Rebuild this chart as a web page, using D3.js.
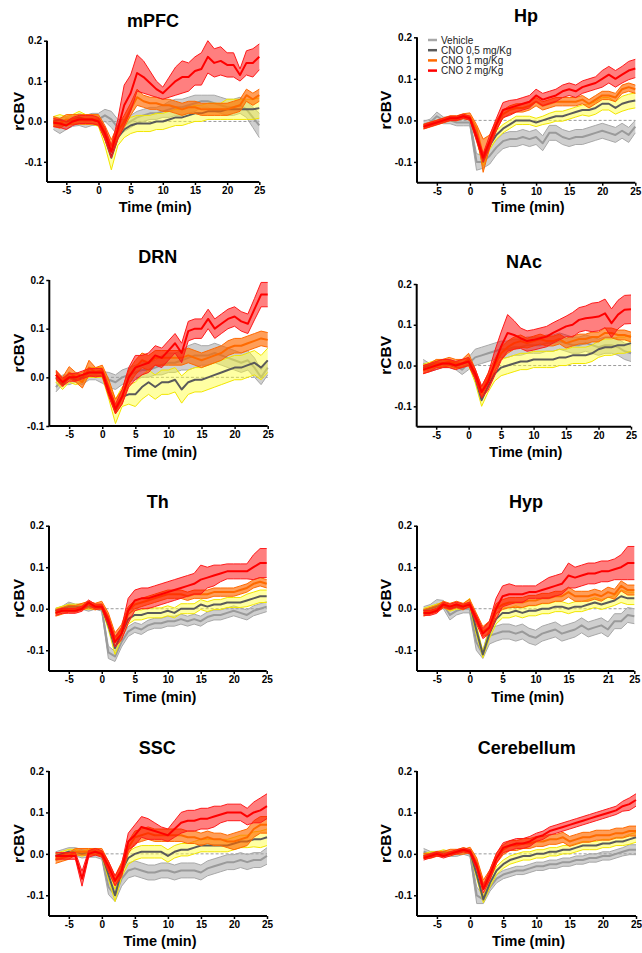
<!DOCTYPE html>
<html><head><meta charset="utf-8">
<script src="https://cdn.jsdelivr.net/npm/d3@7"></script>
<style>body{margin:0;background:#fff}svg text{font-family:Arial,"Liberation Sans",sans-serif}</style>
</head><body><svg id="c" width="642" height="953"></svg>
<script>
// ---------- data ----------
const minutes = [-7,-6,-5,-4,-3,-2,-1,0,1,2,3,4,5,6,7,8,9,10,11,12,13,14,15,16,17,18,19,20,21,22,23,24,25];
const seriesNames = ["Vehicle","CNO 0,5 mg/Kg","CNO 1 mg/Kg","CNO 2 mg/Kg"];
const regions = ["mPFC","Hp","DRN","NAc","Th","Hyp","SSC","Cerebellum"];
const xTicks = [-5,0,5,10,15,20,25];
const xTicksHyp = [-5,0,5,10,15,21,25];
const yTicks = [-0.1,0,0.1,0.2];
const yTicksDRN = [-0.1,0,0.1,0.2];

// mPFC
const mPFC_veh = [-0.005,-0.01,-0.005,0,0.005,0,0.005,0.005,0.015,0.005,-0.015,-0.01,0,0.01,0.015,0.02,0.02,0.025,0.03,0.035,0.035,0.04,0.045,0.05,0.05,0.045,0.04,0.035,0.035,0.04,0.03,0.01,-0.01];
const mPFC_veh_err = [0.015,0.02,0.015,0.012,0.015,0.015,0.015,0.015,0.015,0.02,0.02,0.015,0.015,0.015,0.015,0.015,0.015,0.015,0.02,0.02,0.02,0.02,0.02,0.015,0.015,0.02,0.02,0.02,0.02,0.02,0.02,0.025,0.03];
const mPFC_c05 = [0,0.005,0,0.005,0.01,0.005,0.005,0,-0.04,-0.09,-0.04,-0.02,-0.01,-0.005,-0.005,-0.005,0,0,0.005,0.01,0.01,0.015,0.02,0.02,0.025,0.025,0.025,0.03,0.03,0.03,0.03,0.03,0.033];
const mPFC_c05_err = [0.012,0.012,0.012,0.012,0.015,0.012,0.012,0.012,0.02,0.03,0.02,0.02,0.02,0.02,0.02,0.02,0.02,0.02,0.02,0.02,0.02,0.02,0.02,0.02,0.02,0.02,0.02,0.025,0.025,0.025,0.025,0.025,0.025];
const mPFC_c1 = [0,-0.005,0.005,0.005,0.005,0.005,0.005,0.005,-0.025,-0.06,-0.025,0,0.03,0.06,0.05,0.045,0.045,0.04,0.04,0.035,0.03,0.035,0.035,0.03,0.03,0.03,0.03,0.03,0.035,0.04,0.065,0.055,0.065];
const mPFC_c1_err = [0.012,0.012,0.012,0.012,0.012,0.012,0.012,0.012,0.015,0.015,0.015,0.015,0.015,0.02,0.015,0.015,0.015,0.015,0.015,0.015,0.015,0.015,0.015,0.015,0.015,0.015,0.015,0.015,0.015,0.015,0.015,0.015,0.015];
const mPFC_c2 = [-0.003,-0.005,-0.01,0,0.005,0.005,0.005,0,-0.03,-0.075,-0.02,0.04,0.07,0.12,0.11,0.095,0.08,0.07,0.085,0.1,0.11,0.11,0.125,0.13,0.16,0.145,0.15,0.14,0.14,0.115,0.145,0.145,0.16];
const mPFC_c2_err = [0.01,0.01,0.01,0.01,0.01,0.01,0.01,0.01,0.015,0.015,0.025,0.05,0.045,0.045,0.04,0.03,0.02,0.015,0.025,0.035,0.04,0.035,0.035,0.04,0.04,0.035,0.035,0.03,0.03,0.015,0.03,0.035,0.032];

// Hp
const Hp_veh = [-0.01,-0.005,0.01,0,0,-0.005,-0.005,-0.005,-0.1,-0.1,-0.085,-0.065,-0.05,-0.045,-0.045,-0.04,-0.045,-0.04,-0.055,-0.03,-0.03,-0.04,-0.045,-0.04,-0.04,-0.035,-0.03,-0.025,-0.03,-0.035,-0.025,-0.035,-0.015];
const Hp_veh_err = [0.008,0.008,0.01,0.008,0.008,0.008,0.008,0.008,0.02,0.015,0.02,0.018,0.018,0.018,0.018,0.018,0.018,0.018,0.018,0.018,0.018,0.018,0.018,0.018,0.018,0.018,0.018,0.018,0.018,0.018,0.018,0.018,0.015];
const Hp_c05 = [-0.015,-0.01,-0.005,0,0.005,0.005,0.01,0.005,-0.04,-0.1,-0.06,-0.035,-0.02,-0.01,0,0,0,-0.005,0,0.005,0.01,0.01,0.015,0.02,0.025,0.025,0.03,0.04,0.04,0.03,0.04,0.045,0.048];
const Hp_c05_err = [0.005,0.005,0.005,0.005,0.005,0.005,0.005,0.005,0.008,0.01,0.01,0.01,0.01,0.01,0.01,0.01,0.01,0.01,0.01,0.012,0.012,0.012,0.012,0.012,0.012,0.015,0.015,0.015,0.015,0.015,0.018,0.018,0.018];
const Hp_c1 = [-0.015,-0.01,-0.005,0,0.005,0.005,0.01,0.01,-0.02,-0.085,-0.05,-0.01,0.015,0.025,0.03,0.03,0.035,0.045,0.035,0.04,0.045,0.045,0.045,0.045,0.05,0.04,0.05,0.06,0.06,0.055,0.075,0.08,0.075];
const Hp_c1_err = [0.006,0.006,0.006,0.006,0.006,0.006,0.006,0.008,0.01,0.04,0.015,0.01,0.01,0.01,0.01,0.01,0.01,0.01,0.01,0.01,0.01,0.01,0.01,0.01,0.01,0.01,0.01,0.01,0.01,0.01,0.01,0.01,0.01];
const Hp_c2 = [-0.015,-0.01,-0.005,0,0.005,0.005,0.01,0.005,-0.04,-0.09,-0.05,-0.01,0.025,0.03,0.035,0.04,0.045,0.06,0.05,0.055,0.06,0.07,0.075,0.07,0.08,0.085,0.09,0.1,0.11,0.1,0.11,0.12,0.125];
const Hp_c2_err = [0.005,0.005,0.005,0.005,0.005,0.005,0.005,0.005,0.01,0.01,0.015,0.015,0.018,0.018,0.015,0.015,0.015,0.015,0.015,0.015,0.015,0.015,0.015,0.015,0.015,0.015,0.015,0.02,0.02,0.02,0.02,0.022,0.022];

// DRN
const DRN_veh = [-0.02,-0.005,-0.005,0,-0.005,0.005,0.005,0,-0.005,-0.01,0,0.005,0.01,0.015,0.015,0.02,0.025,0.03,0.03,0.035,0.04,0.045,0.045,0.045,0.05,0.045,0.04,0.035,0.03,0.035,0.02,0,0.02];
const DRN_veh_err = [0.01,0.01,0.01,0.01,0.01,0.01,0.01,0.012,0.015,0.015,0.015,0.015,0.015,0.015,0.015,0.015,0.02,0.02,0.02,0.02,0.025,0.025,0.02,0.02,0.02,0.02,0.02,0.02,0.02,0.02,0.02,0.015,0.015];
const DRN_c05 = [0,-0.015,0,-0.005,0,0.01,0.01,0.01,-0.03,-0.07,-0.04,-0.035,-0.035,-0.02,-0.01,-0.02,-0.01,-0.01,-0.005,-0.025,-0.01,-0.005,-0.005,0,0.005,0.01,0.015,0.02,0.02,0.025,0.03,0.02,0.035];
const DRN_c05_err = [0.01,0.01,0.01,0.01,0.01,0.01,0.01,0.01,0.015,0.025,0.02,0.02,0.025,0.025,0.025,0.025,0.025,0.025,0.025,0.028,0.025,0.025,0.025,0.025,0.025,0.025,0.025,0.025,0.025,0.025,0.025,0.025,0.025];
const DRN_c1 = [0.005,-0.01,0.01,0,-0.01,0.02,0.01,0.015,-0.02,-0.06,-0.04,0,0.02,0.035,0.03,0.04,0.04,0.04,0.04,0.04,0.045,0.04,0.035,0.04,0.045,0.05,0.06,0.065,0.065,0.07,0.075,0.08,0.077];
const DRN_c1_err = [0.01,0.01,0.012,0.01,0.012,0.015,0.01,0.01,0.015,0.015,0.015,0.015,0.015,0.015,0.015,0.015,0.015,0.015,0.015,0.015,0.015,0.015,0.015,0.015,0.015,0.015,0.015,0.015,0.015,0.015,0.015,0.015,0.015];
const DRN_c2 = [0.005,-0.01,0,0,0.005,0.01,0.01,0.01,-0.03,-0.065,-0.04,0,0.02,0.025,0.03,0.045,0.04,0.055,0.07,0.05,0.095,0.1,0.1,0.12,0.1,0.11,0.12,0.125,0.115,0.11,0.14,0.17,0.17];
const DRN_c2_err = [0.008,0.008,0.008,0.008,0.008,0.008,0.008,0.008,0.01,0.01,0.015,0.02,0.025,0.02,0.02,0.02,0.02,0.02,0.02,0.02,0.02,0.02,0.02,0.02,0.02,0.02,0.02,0.02,0.02,0.02,0.022,0.025,0.025];

// NAc
const NAc_veh = [0.005,-0.005,0,0.005,0.005,0,-0.01,0.005,0.02,0.025,0.03,0.035,0.04,0.04,0.045,0.045,0.05,0.05,0.05,0.055,0.055,0.06,0.055,0.05,0.05,0.055,0.05,0.045,0.05,0.05,0.045,0.035,0.03];
const NAc_veh_err = [0.01,0.01,0.01,0.01,0.01,0.01,0.012,0.015,0.02,0.02,0.02,0.02,0.02,0.02,0.02,0.02,0.02,0.02,0.02,0.02,0.02,0.02,0.02,0.02,0.02,0.02,0.02,0.02,0.02,0.02,0.02,0.02,0.02];
const NAc_c05 = [-0.005,0,0.005,0.005,0.005,0,0.005,0.01,-0.03,-0.085,-0.05,-0.02,-0.005,0,0.005,0.01,0.01,0.015,0.015,0.015,0.015,0.02,0.02,0.025,0.025,0.025,0.03,0.04,0.045,0.045,0.05,0.05,0.055];
const NAc_c05_err = [0.008,0.008,0.008,0.008,0.008,0.008,0.008,0.01,0.012,0.015,0.015,0.018,0.02,0.02,0.02,0.02,0.02,0.02,0.02,0.02,0.02,0.02,0.02,0.02,0.02,0.02,0.02,0.02,0.02,0.02,0.02,0.02,0.02];
const NAc_c1 = [-0.01,-0.005,0.005,0.005,0.01,0.005,0.005,0.015,-0.02,-0.065,-0.03,0,0.03,0.045,0.055,0.06,0.055,0.06,0.065,0.06,0.06,0.065,0.055,0.06,0.065,0.065,0.07,0.07,0.08,0.08,0.075,0.075,0.07];
const NAc_c1_err = [0.01,0.01,0.01,0.01,0.01,0.01,0.01,0.015,0.012,0.012,0.012,0.015,0.015,0.015,0.015,0.015,0.012,0.012,0.012,0.012,0.012,0.012,0.012,0.012,0.012,0.012,0.012,0.012,0.012,0.012,0.012,0.012,0.012];
const NAc_c2 = [-0.01,-0.005,0,0.005,0.005,0,0.005,0.01,-0.02,-0.065,-0.04,0.005,0.047,0.08,0.075,0.067,0.06,0.063,0.067,0.071,0.08,0.088,0.096,0.1,0.112,0.116,0.118,0.12,0.128,0.104,0.125,0.137,0.138];
const NAc_c2_err = [0.01,0.01,0.01,0.01,0.01,0.01,0.01,0.01,0.012,0.015,0.02,0.03,0.035,0.045,0.035,0.025,0.025,0.025,0.025,0.025,0.025,0.025,0.025,0.03,0.03,0.03,0.035,0.035,0.035,0.035,0.035,0.035,0.035];

// Th
const Th_veh = [-0.005,0,0.01,0.005,0.005,0,0.005,0,-0.105,-0.115,-0.08,-0.055,-0.045,-0.05,-0.04,-0.035,-0.035,-0.03,-0.03,-0.025,-0.03,-0.025,-0.03,-0.02,-0.015,-0.015,-0.01,-0.005,-0.01,-0.015,-0.005,0,0.005];
const Th_veh_err = [0.006,0.006,0.006,0.006,0.006,0.006,0.006,0.006,0.015,0.012,0.012,0.012,0.012,0.012,0.012,0.012,0.012,0.012,0.012,0.012,0.012,0.012,0.012,0.012,0.012,0.012,0.012,0.012,0.012,0.012,0.012,0.012,0.012];
const Th_c05 = [-0.005,0,0.005,0.005,0.005,0.005,0.005,0.005,-0.04,-0.095,-0.06,-0.025,-0.015,-0.015,-0.01,-0.01,-0.01,-0.005,-0.01,0,0,0,0.01,0.005,0.01,0.01,0.015,0.015,0.015,0.02,0.025,0.03,0.03];
const Th_c05_err = [0.006,0.006,0.006,0.006,0.006,0.006,0.006,0.006,0.01,0.015,0.012,0.012,0.012,0.012,0.012,0.012,0.012,0.012,0.012,0.012,0.012,0.012,0.012,0.012,0.012,0.012,0.012,0.012,0.012,0.015,0.015,0.015,0.015];
const Th_c1 = [-0.01,-0.005,0,0,0.005,0.01,0.005,0.01,-0.02,-0.07,-0.05,-0.005,0.01,0.015,0.02,0.025,0.03,0.035,0.035,0.035,0.03,0.035,0.035,0.035,0.04,0.04,0.04,0.04,0.045,0.05,0.06,0.065,0.06];
const Th_c1_err = [0.008,0.008,0.008,0.008,0.008,0.008,0.008,0.008,0.01,0.012,0.012,0.01,0.01,0.01,0.01,0.01,0.01,0.01,0.01,0.01,0.01,0.01,0.01,0.01,0.01,0.01,0.01,0.01,0.01,0.01,0.01,0.01,0.01];
const Th_c2 = [-0.01,-0.005,-0.005,-0.005,0,0.015,0.005,0.005,-0.03,-0.08,-0.06,-0.005,0.02,0.025,0.025,0.03,0.035,0.04,0.045,0.05,0.055,0.06,0.07,0.075,0.08,0.085,0.09,0.09,0.09,0.09,0.1,0.11,0.11];
const Th_c2_err = [0.006,0.006,0.006,0.006,0.006,0.006,0.006,0.006,0.01,0.012,0.015,0.03,0.025,0.025,0.025,0.025,0.025,0.025,0.025,0.025,0.025,0.025,0.035,0.025,0.025,0.02,0.018,0.018,0.018,0.018,0.03,0.035,0.035];

// Hyp
const Hyp_veh = [-0.005,0,0.01,0.01,-0.015,-0.005,0,0,-0.08,-0.11,-0.065,-0.06,-0.055,-0.055,-0.06,-0.055,-0.065,-0.07,-0.06,-0.055,-0.05,-0.06,-0.055,-0.05,-0.04,-0.05,-0.045,-0.04,-0.05,-0.03,-0.03,-0.015,-0.018];
const Hyp_veh_err = [0.01,0.01,0.012,0.01,0.012,0.01,0.01,0.01,0.02,0.01,0.02,0.018,0.018,0.018,0.018,0.018,0.018,0.018,0.018,0.018,0.018,0.018,0.018,0.018,0.018,0.018,0.018,0.018,0.018,0.018,0.018,0.018,0.018];
const Hyp_c05 = [-0.005,0,0.005,0.01,0,0.005,0.005,0.015,-0.05,-0.11,-0.06,-0.025,-0.01,-0.01,-0.005,-0.01,-0.005,-0.005,0,0,0.005,0.005,0,0.005,0.005,0.01,0.015,0.01,0.015,0.02,0.03,0.025,0.025];
const Hyp_c05_err = [0.006,0.006,0.006,0.006,0.006,0.006,0.006,0.01,0.012,0.008,0.012,0.012,0.012,0.012,0.012,0.012,0.012,0.012,0.012,0.012,0.012,0.012,0.012,0.012,0.012,0.012,0.012,0.012,0.012,0.012,0.015,0.015,0.015];
const Hyp_c1 = [-0.01,-0.005,0,0.01,0.005,0.01,0.005,0.015,-0.02,-0.055,-0.045,0,0.01,0.015,0.015,0.015,0.02,0.02,0.025,0.025,0.03,0.03,0.04,0.03,0.03,0.03,0.035,0.03,0.04,0.035,0.055,0.045,0.045];
const Hyp_c1_err = [0.008,0.008,0.008,0.008,0.008,0.008,0.008,0.008,0.01,0.012,0.015,0.012,0.012,0.012,0.012,0.012,0.012,0.012,0.012,0.012,0.012,0.012,0.012,0.012,0.012,0.012,0.012,0.012,0.012,0.012,0.012,0.012,0.012];
const Hyp_c2 = [-0.01,-0.01,-0.005,0.01,0.005,0.01,0.005,0.01,-0.025,-0.06,-0.045,0,0.03,0.035,0.035,0.035,0.04,0.04,0.045,0.05,0.055,0.06,0.08,0.075,0.08,0.085,0.085,0.09,0.09,0.095,0.1,0.11,0.11];
const Hyp_c2_err = [0.006,0.006,0.006,0.006,0.006,0.006,0.006,0.006,0.01,0.012,0.015,0.025,0.025,0.025,0.02,0.02,0.015,0.015,0.02,0.025,0.025,0.025,0.03,0.025,0.025,0.025,0.025,0.025,0.025,0.025,0.03,0.04,0.04];

// SSC
const SSC_veh = [-0.005,0,0.005,0.005,0,0,0,-0.005,-0.08,-0.1,-0.06,-0.04,-0.035,-0.04,-0.045,-0.045,-0.04,-0.04,-0.045,-0.04,-0.04,-0.04,-0.045,-0.035,-0.03,-0.025,-0.02,-0.02,-0.015,-0.02,-0.015,-0.015,-0.005];
const SSC_veh_err = [0.01,0.01,0.01,0.01,0.01,0.008,0.008,0.008,0.018,0.015,0.018,0.018,0.018,0.018,0.018,0.018,0.018,0.018,0.018,0.018,0.018,0.018,0.018,0.018,0.018,0.018,0.018,0.018,0.018,0.018,0.018,0.018,0.02];
const SSC_c05 = [-0.005,0,0.005,0.005,0,0.005,0.005,0,-0.05,-0.1,-0.04,-0.01,0,0.005,0.005,0.005,0.005,-0.005,0.005,0.01,0.01,0.015,0.02,0.02,0.02,0.02,0.02,0.025,0.03,0.03,0.035,0.035,0.04];
const SSC_c05_err = [0.006,0.006,0.006,0.006,0.006,0.006,0.006,0.006,0.012,0.015,0.015,0.015,0.015,0.015,0.015,0.015,0.015,0.015,0.015,0.015,0.015,0.015,0.015,0.015,0.015,0.015,0.015,0.015,0.015,0.015,0.018,0.02,0.02];
const SSC_c1 = [-0.015,-0.01,-0.005,0.005,0.005,0.005,0.005,0.005,-0.03,-0.065,-0.035,0.015,0.04,0.045,0.05,0.045,0.045,0.045,0.045,0.045,0.04,0.04,0.035,0.04,0.035,0.035,0.03,0.03,0.035,0.04,0.06,0.07,0.07];
const SSC_c1_err = [0.008,0.008,0.008,0.008,0.008,0.008,0.008,0.008,0.012,0.012,0.015,0.015,0.015,0.015,0.015,0.015,0.015,0.015,0.015,0.015,0.015,0.015,0.015,0.015,0.015,0.015,0.015,0.02,0.02,0.02,0.02,0.02,0.02];
const SSC_c2 = [-0.005,-0.005,-0.005,-0.005,-0.06,0,0.005,0,-0.03,-0.065,-0.04,0.03,0.045,0.065,0.06,0.055,0.05,0.045,0.06,0.075,0.08,0.08,0.085,0.085,0.09,0.095,0.1,0.1,0.1,0.09,0.1,0.105,0.115];
const SSC_c2_err = [0.008,0.008,0.008,0.008,0.018,0.008,0.008,0.008,0.012,0.012,0.015,0.02,0.025,0.025,0.025,0.02,0.015,0.015,0.02,0.025,0.025,0.025,0.025,0.025,0.025,0.02,0.02,0.02,0.02,0.02,0.025,0.03,0.03];

// Cerebellum
const Cer_veh = [0.005,0,0,0,0,0,0.005,0,-0.1,-0.11,-0.08,-0.06,-0.05,-0.045,-0.04,-0.04,-0.035,-0.03,-0.03,-0.025,-0.025,-0.02,-0.02,-0.015,-0.015,-0.01,-0.01,-0.005,-0.005,0,0.005,0.01,0.01];
const Cer_veh_err = [0.008,0.006,0.006,0.006,0.006,0.006,0.006,0.006,0.02,0.01,0.01,0.01,0.01,0.01,0.01,0.01,0.01,0.01,0.01,0.01,0.01,0.01,0.01,0.01,0.01,0.01,0.01,0.01,0.01,0.01,0.01,0.012,0.012];
const Cer_c05 = [-0.005,0,0,0.005,0,0.005,0.01,0.005,-0.05,-0.11,-0.07,-0.04,-0.025,-0.015,-0.01,-0.005,-0.005,0,0,0.005,0.005,0.01,0.01,0.015,0.02,0.02,0.02,0.025,0.025,0.03,0.03,0.035,0.04];
const Cer_c05_err = [0.005,0.005,0.005,0.005,0.005,0.005,0.005,0.005,0.01,0.008,0.01,0.01,0.01,0.01,0.01,0.01,0.01,0.01,0.01,0.01,0.01,0.01,0.01,0.01,0.01,0.01,0.01,0.01,0.01,0.01,0.01,0.012,0.012];
const Cer_c1 = [-0.005,-0.005,0,0,0.005,0.005,0.005,0.01,-0.02,-0.075,-0.05,-0.01,0.01,0.02,0.02,0.025,0.025,0.03,0.03,0.035,0.035,0.04,0.03,0.035,0.04,0.04,0.045,0.045,0.045,0.05,0.05,0.055,0.055];
const Cer_c1_err = [0.006,0.006,0.006,0.006,0.006,0.006,0.006,0.006,0.01,0.012,0.012,0.012,0.012,0.012,0.012,0.012,0.012,0.012,0.012,0.012,0.012,0.012,0.012,0.012,0.012,0.012,0.012,0.012,0.012,0.012,0.012,0.012,0.012];
const Cer_c2 = [-0.01,-0.005,0,-0.005,0,0.005,0.01,0.005,-0.03,-0.085,-0.05,-0.01,0.015,0.02,0.025,0.025,0.03,0.04,0.045,0.055,0.06,0.065,0.07,0.075,0.08,0.085,0.09,0.095,0.1,0.105,0.115,0.12,0.13];
const Cer_c2_err = [0.005,0.005,0.005,0.005,0.005,0.005,0.005,0.005,0.008,0.01,0.012,0.012,0.012,0.012,0.012,0.012,0.012,0.01,0.01,0.01,0.01,0.01,0.01,0.01,0.01,0.01,0.01,0.01,0.01,0.01,0.012,0.015,0.015];

const panelData = {
  mPFC: [[mPFC_veh,mPFC_veh_err],[mPFC_c05,mPFC_c05_err],[mPFC_c1,mPFC_c1_err],[mPFC_c2,mPFC_c2_err]],
  Hp: [[Hp_veh,Hp_veh_err],[Hp_c05,Hp_c05_err],[Hp_c1,Hp_c1_err],[Hp_c2,Hp_c2_err]],
  DRN: [[DRN_veh,DRN_veh_err],[DRN_c05,DRN_c05_err],[DRN_c1,DRN_c1_err],[DRN_c2,DRN_c2_err]],
  NAc: [[NAc_veh,NAc_veh_err],[NAc_c05,NAc_c05_err],[NAc_c1,NAc_c1_err],[NAc_c2,NAc_c2_err]],
  Th: [[Th_veh,Th_veh_err],[Th_c05,Th_c05_err],[Th_c1,Th_c1_err],[Th_c2,Th_c2_err]],
  Hyp: [[Hyp_veh,Hyp_veh_err],[Hyp_c05,Hyp_c05_err],[Hyp_c1,Hyp_c1_err],[Hyp_c2,Hyp_c2_err]],
  SSC: [[SSC_veh,SSC_veh_err],[SSC_c05,SSC_c05_err],[SSC_c1,SSC_c1_err],[SSC_c2,SSC_c2_err]],
  Cerebellum: [[Cer_veh,Cer_veh_err],[Cer_c05,Cer_c05_err],[Cer_c1,Cer_c1_err],[Cer_c2,Cer_c2_err]]
};

// ---------- layout / style ----------
const layout = {
  mPFC:{l:47,r:259.3,t:40.7,b:182,ymin:-0.15,tx:153,ty:20,xl:207,yl:18},
  Hp:{l:417,r:635.3,t:37.3,b:182.7,ymin:-0.15,tx:526,ty:15,xl:207,yl:385},
  DRN:{l:49.3,r:267.7,t:280,b:426,ymin:-0.1,tx:157.7,ty:256.7,xl:451.7,yl:18},
  NAc:{l:416.7,r:631,t:284,b:426.7,ymin:-0.15,tx:524,ty:261.7,xl:451.7,yl:385},
  Th:{l:49,r:266.7,t:525.7,b:671,ymin:-0.15,tx:157.7,ty:501.7,xl:697,yl:18},
  Hyp:{l:417,r:634.3,t:525.7,b:671,ymin:-0.15,tx:526,ty:501.7,xl:697,yl:385},
  SSC:{l:49,r:267,t:771,b:916,ymin:-0.15,tx:157.3,ty:747.3,xl:940.7,yl:18},
  Cerebellum:{l:417,r:636,t:771,b:916,ymin:-0.15,tx:526.7,ty:747,xl:941,yl:385}
};
const styles = [
  {fill:"#a0a0a0",op:0.5,edge:"#a8a8a8",line:"#9a9a9a",lw:2},
  {fill:"#ffff33",op:0.45,edge:"#f2e600",line:"#5a5a5a",lw:2},
  {fill:"#ff6a00",op:0.65,edge:"#ff6a00",line:"#ff6a00",lw:2},
  {fill:"#ff0000",op:0.5,edge:"#ff1a1a",line:"#ff0000",lw:2}
];

const svg = d3.select("#c");
const fmtY = d => d === 0 ? "0.0" : (d < 0 ? "-" + Math.abs(d).toFixed(1) : d.toFixed(1));

regions.forEach(name => {
  const L = layout[name];
  const x = d3.scaleLinear().domain([-8,25]).range([L.l,L.r]);
  const y = d3.scaleLinear().domain([L.ymin,0.2]).range([L.b,L.t]);
  const g = svg.append("g");

  // zero reference line
  g.append("line").attr("x1",x(-7)).attr("x2",x(25)).attr("y1",y(0)).attr("y2",y(0))
    .attr("stroke","#9a9a9a").attr("stroke-width",1).attr("stroke-dasharray","3,2");

  panelData[name].forEach((s,i) => {
    const [mean, err] = s, st = styles[i];
    const pts = minutes.map((m,k) => ({t:m, v:mean[k], e:err[k]}));
    g.append("path").datum(pts)
      .attr("d", d3.area().x(d=>x(d.t)).y0(d=>y(d.v-d.e)).y1(d=>y(d.v+d.e)))
      .attr("fill",st.fill).attr("fill-opacity",st.op).attr("stroke","none");
    ["lo","hi"].forEach(side => {
      g.append("path").datum(pts)
        .attr("d", d3.line().x(d=>x(d.t)).y(d=>y(side==="lo"?d.v-d.e:d.v+d.e)))
        .attr("fill","none").attr("stroke",st.edge).attr("stroke-width",1);
    });
    g.append("path").datum(pts)
      .attr("d", d3.line().x(d=>x(d.t)).y(d=>y(d.v)))
      .attr("fill","none").attr("stroke",st.line).attr("stroke-width",st.lw).attr("stroke-linejoin","round");
  });

  // axes
  const xa = g.append("g").attr("transform",`translate(0,${L.b})`)
    .call(d3.axisBottom(x).tickValues(name==="Hyp"?xTicksHyp:xTicks).tickSize(3).tickPadding(2).tickFormat(d=>String(d)));
  const ya = g.append("g").attr("transform",`translate(${L.l},0)`)
    .call(d3.axisLeft(y).tickValues(name==="DRN"?yTicksDRN:yTicks).tickSize(3).tickPadding(2).tickFormat(fmtY));
  [xa,ya].forEach(a => {
    a.select(".domain").attr("stroke","#000").attr("stroke-width",2);
    a.selectAll(".tick line").attr("stroke","#000").attr("stroke-width",1.5);
    a.selectAll("text").attr("font-size",10).attr("font-weight","bold").attr("fill","#000")
      .style("font-family","Arial,'Liberation Sans',sans-serif");
  });
  xa.select(".domain").attr("d",`M${L.l},0H${L.r}`);
  ya.select(".domain").attr("d",`M0,${L.t}V${L.b}`);

  g.append("text").attr("x",L.tx).attr("y",L.ty+6.5).attr("text-anchor","middle")
    .attr("font-size",18).attr("font-weight","bold").text(name);
  g.append("text").attr("x",(L.l+L.r)/2+2).attr("y",L.xl+5).attr("text-anchor","middle")
    .attr("font-size",14.5).attr("font-weight","bold").text("Time (min)");
  g.append("text").attr("transform",`translate(${L.yl+5.5},${(L.t+L.b)/2}) rotate(-90)`)
    .attr("text-anchor","middle").attr("font-size",15.5).attr("font-weight","bold").text("rCBV");
});

// legend (in Hp panel)
const legendColors = ["#a8a8a8","#5a5a5a","#ff6a00","#ff0000"];
const lg = svg.append("g");
seriesNames.forEach((n,i) => {
  const yy = 40 + i*10.2;
  lg.append("line").attr("x1",428).attr("x2",437).attr("y1",yy).attr("y2",yy)
    .attr("stroke",legendColors[i]).attr("stroke-width",2.5);
  lg.append("text").attr("x",441).attr("y",yy+3.6).attr("font-size",10).attr("fill","#222").text(n);
});
</script></body></html>
